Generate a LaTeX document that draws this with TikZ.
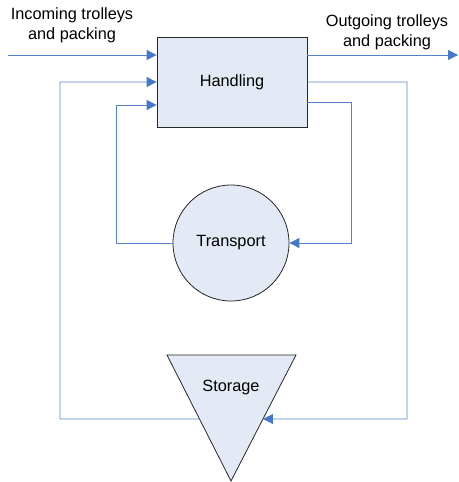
\documentclass[tikz,border=0pt]{standalone}
\usepackage{fontspec}
\setmainfont{Liberation Sans}
\usetikzlibrary{arrows.meta,calc}
\definecolor{flowblue}{RGB}{86,132,204}
\definecolor{tipblue}{RGB}{70,120,200}
\definecolor{shapefill}{RGB}{228,234,245}
\begin{document}
\begin{tikzpicture}[x=1pt,y=-1pt,
  every node/.style={font=\fontsize{16.3}{20}\selectfont, inner sep=0pt},
  shapebox/.style={draw=black!85, line width=0.8pt, fill=shapefill},
  flow/.style={draw=flowblue, line width=0.9pt,
    -{Triangle[length=10pt,width=10pt,color=tipblue]}},
  label/.style={align=center}]
  \useasboundingbox (0,0) rectangle (458,482);

  % central handling block
  \node[shapebox, minimum width=150pt, minimum height=90pt] (H) at (232,82) {Handling};

  % transport circle
  \node[shapebox, circle, minimum size=116pt] (T) at (231,243) {Transport};

  % storage triangle (pointing down)
  \coordinate (s1) at (167,355);
  \coordinate (s2) at (296,355);
  \coordinate (s3) at (231,481);
  \draw[shapebox] (s1) -- (s2) -- (s3) -- cycle;
  \node (S) at (231,387) {Storage};
  \coordinate (sL) at ($(s1)!0.508!(s3)$);
  \coordinate (sR) at ($(s2)!0.508!(s3)$);

  % text labels
  \node[label] (inlab) at (72,25) {Incoming trolleys\\and packing};
  \node[label] (outlab) at (387,32) {Outgoing trolleys\\and packing};

  % incoming and outgoing material
  \coordinate (inStart) at (8,55);
  \coordinate (outEnd) at (458,55);
  \draw[flow] (inStart) -- (inStart -| H.west);
  \draw[flow] (inStart -| H.east) -- (outEnd);

  % outer loop via storage
  \draw[flow] (sL) -- (60,419) -- (60,82) -- (H.west);
  \draw[flow] (H.east) -- (407,82) -- (407,419) -- (sR);

  % inner loop via transport
  \draw[flow] (H.east |- 0,102) -- (351,102) -- (351,243) -- (T.east);
  \draw[flow] (T.west) -- (116,243) -- (116,105) -- (H.west |- 0,105);
\end{tikzpicture}
\end{document}
